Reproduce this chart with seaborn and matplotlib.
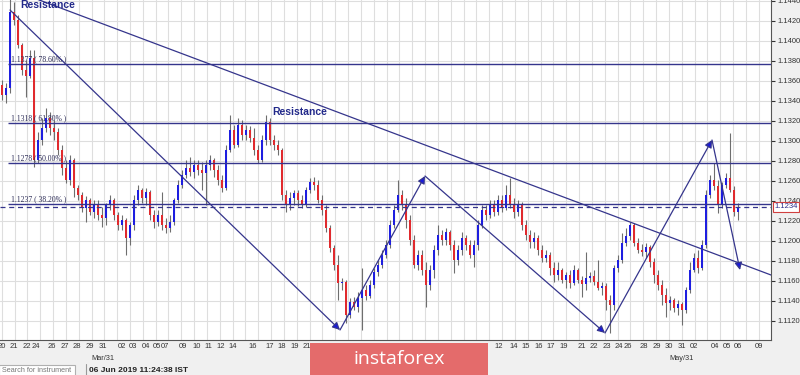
import numpy as np
import pandas as pd
import seaborn as sns
import matplotlib.pyplot as plt
from matplotlib.patches import Rectangle
from matplotlib.ticker import FormatStrFormatter
from matplotlib.transforms import blended_transform_factory

# EURUSD H4 candles, prices in pips above 1.1000
first_open_pips = 356
close_pips = [346, 353, 429, 421, 396, 371, 365, 383, 281, 301,
              313, 323, 313, 309, 291, 273, 261, 281, 253, 246,
              233, 241, 229, 236, 226, 223, 236, 241, 226, 216,
              221, 203, 216, 241, 251, 243, 249, 226, 219, 226,
              216, 213, 219, 241, 256, 266, 273, 269, 276, 271,
              268, 276, 281, 271, 261, 253, 291, 311, 296, 316,
              306, 311, 303, 291, 281, 301, 319, 301, 296, 291,
              246, 236, 243, 248, 241, 236, 251, 259, 256, 241,
              231, 213, 193, 176, 158, 159, 126, 139, 134, 143,
              151, 145, 156, 169, 176, 186, 196, 216, 231, 246,
              236, 221, 201, 176, 186, 171, 156, 171, 191, 206,
              201, 209, 196, 181, 191, 203, 196, 186, 196, 216,
              231, 226, 236, 229, 241, 233, 246, 236, 229, 236,
              216, 206, 199, 203, 191, 183, 186, 173, 166, 171,
              161, 166, 158, 171, 161, 157, 163, 165, 159, 153,
              155, 141, 136, 173, 181, 198, 205, 216, 198, 191,
              189, 194, 179, 166, 156, 146, 138, 141, 133, 137,
              131, 151, 171, 183, 173, 196, 246, 261, 255, 236,
              256, 263, 251, 229, 234]
high_pips = [361, 358, 445, 439, 426, 398, 381, 391, 391, 309,
             323, 333, 329, 321, 313, 296, 281, 286, 283, 256,
             249, 245, 243, 241, 241, 234, 238, 246, 243, 229,
             226, 223, 219, 246, 256, 253, 253, 251, 231, 231,
             249, 223, 226, 243, 261, 271, 281, 284, 281, 281,
             279, 281, 286, 283, 276, 266, 296, 326, 316, 323,
             321, 316, 315, 313, 296, 306, 326, 323, 306, 301,
             293, 251, 249, 251, 251, 246, 254, 263, 264, 261,
             246, 236, 216, 196, 186, 163, 161, 143, 144, 149,
             173, 156, 161, 173, 181, 191, 201, 221, 236, 261,
             251, 243, 226, 206, 191, 191, 179, 176, 196, 216,
             211, 213, 211, 201, 196, 209, 206, 201, 201, 221,
             236, 236, 241, 241, 246, 246, 256, 263, 243, 241,
             239, 221, 211, 209, 206, 196, 191, 189, 179, 179,
             173, 169, 171, 176, 173, 165, 189, 169, 171, 181,
             159, 158, 146, 176, 186, 208, 213, 219, 218, 203,
             197, 198, 196, 183, 171, 161, 153, 145, 143, 141,
             139, 154, 179, 188, 191, 201, 251, 266, 278, 261,
             259, 268, 308, 255, 238]
low_pips = [341, 338, 348, 416, 393, 366, 344, 363, 274, 278,
            296, 309, 306, 301, 286, 266, 258, 256, 244, 241,
            229, 219, 226, 223, 221, 214, 216, 231, 221, 211,
            211, 186, 196, 211, 236, 238, 236, 221, 213, 215,
            211, 208, 209, 216, 238, 253, 263, 265, 263, 266,
            251, 236, 271, 264, 256, 249, 251, 289, 293, 294,
            301, 301, 299, 286, 278, 279, 296, 296, 291, 286,
            241, 229, 231, 236, 235, 233, 234, 248, 251, 238,
            226, 209, 189, 171, 141, 151, 118, 123, 131, 129,
            111, 141, 143, 153, 165, 173, 183, 193, 213, 229,
            231, 213, 196, 173, 171, 166, 134, 151, 163, 186,
            196, 196, 191, 168, 176, 186, 191, 183, 174, 191,
            213, 221, 223, 225, 226, 229, 231, 233, 223, 225,
            211, 201, 193, 193, 186, 179, 179, 166, 159, 161,
            158, 153, 153, 156, 158, 144, 151, 159, 156, 151,
            146, 131, 108, 131, 169, 178, 195, 201, 195, 188,
            185, 183, 174, 158, 151, 136, 124, 131, 129, 126,
            116, 128, 148, 169, 168, 171, 193, 243, 251, 228,
            233, 253, 249, 225, 221]

fib_levels = [1.1377, 1.1318, 1.1278, 1.1237]
fib_labels = ['1.1377 ( 78.60% )', '1.1318 ( 61.80% )', '1.1278 ( 50.00% )', '1.1237 ( 38.20% )']
last_price = 1.1234

# drawn wave (candle index, price)
wave_idx = [2, 84.5, 105.75, 150.75, 177.5, 184.5]
wave_price = [1.1431, 1.1111, 1.1265, 1.1108, 1.1301, 1.1171]
trend_idx = [2, 192.25]
trend_price = [1.1452, 1.1166]

tick_pos = [-0.08, 3, 6.33, 8.5, 12.43, 15.75, 18.83, 22, 25.18, 29.93, 32.83, 35.93,
            38.68, 40.75, 45.18, 48.68, 51.58, 54.68, 57.68, 62.68, 67, 69.93, 73.25,
            76.18, 119.75, 124.08, 127.83, 131, 134.08, 137.18, 140.33, 144.93, 148,
            151.33, 154.33, 156.58, 160.5, 163.68, 166.83, 169.93, 173.08, 178.25,
            181.18, 184.08, 189.33]
tick_labels = ['20', '21', '22', '24', '26', '27', '28', '29', '31', '02', '03', '04',
               '05', '07', '09', '10', '11', '12', '14', '16', '17', '18', '19',
               '21', '10', '12', '14', '15', '16', '17', '19', '21', '22',
               '23', '24', '26', '28', '29', '30', '31', '02', '04',
               '05', '06', '09']
month_pos = [25.18, 169.93]
month_labels = ['Mar/31', 'May/31']

df = pd.DataFrame({'close': 1.1 + np.array(close_pips) / 1e4,
                   'high': 1.1 + np.array(high_pips) / 1e4,
                   'low': 1.1 + np.array(low_pips) / 1e4})
df['open'] = df['close'].shift(1).fillna(1.1 + first_open_pips / 1e4)
df['idx'] = np.arange(len(df))

sns.set_style('white')
plt.rcParams['font.family'] = ['Liberation Sans', 'DejaVu Sans']

navy = '#35358c'
fig = plt.figure(figsize=(8, 3.75), dpi=100, facecolor='#f0f0f0')
ax = fig.add_axes([0, 35 / 375, 771 / 800, 340 / 375])
ax.set_facecolor('white')
ax.set_xlim(-0.5, 192.25)
ax.set_ylim(1.1101, 1.1441)

# grid
ax.set_yticks(np.arange(1.1120, 1.14401, 0.0020))
ax.yaxis.set_major_formatter(FormatStrFormatter('%.4f'))
ax.yaxis.tick_right()
ax.set_xticks(tick_pos)
ax.set_xticklabels(tick_labels)
ax.set_xticks(np.arange(-0.075, 192.3, 3.2075), minor=True)
ax.grid(True, which='minor', axis='x', color='#dedede', lw=0.8)
ax.grid(True, which='major', axis='y', color='#dedede', lw=0.8)
ax.grid(False, which='major', axis='x')
ax.set_axisbelow(True)
ax.tick_params(axis='x', which='both', length=0, labelsize=5.5, pad=2.5, colors='#333333')
ax.tick_params(axis='y', length=3, pad=1.5, labelsize=5.5, colors='#333333', direction='out')
for s in ['top', 'left']:
    ax.spines[s].set_visible(False)
for s in ['right', 'bottom']:
    ax.spines[s].set_color('#555555')
    ax.spines[s].set_linewidth(0.8)

for mp, ml in zip(month_pos, month_labels):
    ax.annotate(ml, xy=(mp, 0), xycoords=('data', 'axes fraction'), xytext=(0, -11),
                textcoords='offset points', fontsize=5.3, color='#333333',
                ha='center', va='top', annotation_clip=False)

# candles
up = df['close'] >= df['open']
colors = np.where(up, '#1e1ee0', '#e02a2e')
ax.vlines(df['idx'], df['low'], df['high'], color='#6e6e6e', lw=0.8, zorder=2)
body = (df['close'] - df['open']).abs().clip(lower=0.00006)
ax.bar(df['idx'], body, bottom=np.minimum(df['open'], df['close']), width=0.7,
       color=colors, linewidth=0, zorder=3)

# fibonacci levels
ax.hlines(fib_levels, 1.5, 192.25, color=navy, lw=1.0, zorder=4)
for lv, lab in zip(fib_levels, fib_labels):
    ax.text(2.3, lv + 0.00012, lab, fontsize=5.5, family=['Liberation Serif'],
            color='#2a2a55', va='bottom', zorder=6)
ax.axhline(last_price, color=navy, lw=0.9, ls=(0, (4, 3)), zorder=4)

# resistance trendline and wave arrows
sns.lineplot(x=trend_idx, y=trend_price, ax=ax, color=navy, lw=0.9, zorder=4)
for k in range(len(wave_idx) - 1):
    ax.annotate('', xy=(wave_idx[k + 1], wave_price[k + 1]), xytext=(wave_idx[k], wave_price[k]),
                arrowprops=dict(arrowstyle='-|>', ec=navy, fc='#1818e0', lw=0.9,
                                mutation_scale=11, shrinkA=0, shrinkB=0), zorder=5)

ax.text(4.5, 1.1436, 'Resistance', fontsize=7.5, fontweight='bold', color='#22298a',
        va='center', ha='left', zorder=6)
ax.text(74.5, 1.1329, 'Resistance', fontsize=7.5, fontweight='bold', color='#22298a',
        va='center', ha='center', zorder=6)

tr = blended_transform_factory(ax.transAxes, ax.transData)
ax.text(1.004, last_price, '1.1234', transform=tr, fontsize=5.5, color='#2a2a8a',
        va='center', ha='left', clip_on=False, zorder=7,
        bbox=dict(boxstyle='square,pad=0.15', fc='white', ec='#d04040', lw=0.8))

# bottom toolbar
bx = fig.add_axes([0, 0, 1, 35 / 375])
bx.set_xlim(0, 800)
bx.set_ylim(375, 340)
bx.axis('off')
bx.add_patch(Rectangle((310, 343), 178, 33, fc='#e46b6b', ec='none'))
bx.text(399, 359.5, 'instaforex', color='white', fontsize=14, family=['Open Sans'],
        ha='center', va='center')
bx.add_patch(Rectangle((-1, 364.5), 76, 12, fc='white', ec='#b0b0b0', lw=0.8))
bx.text(2, 370.5, 'Search for instrument', fontsize=5.2, color='#777777', va='center')
bx.plot([86, 86], [364, 375], color='#999999', lw=0.8)
bx.text(89, 370.5, '06 Jun 2019 11:24:38 IST', fontsize=6, fontweight='bold',
        color='#222222', va='center')

plt.savefig('out.png', dpi=100, facecolor=fig.get_facecolor())
